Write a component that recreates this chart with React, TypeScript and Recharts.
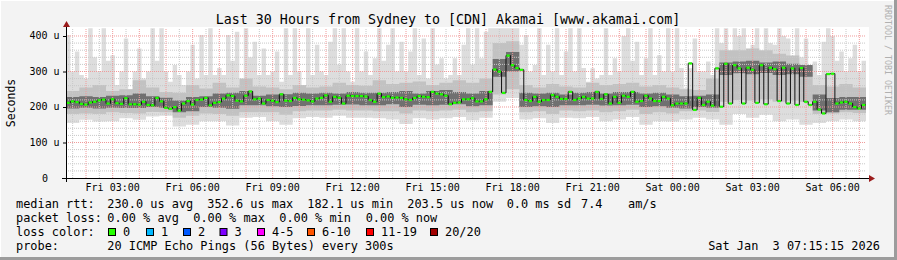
import React from "react";
import { ComposedChart, Area, Line, XAxis, YAxis, ReferenceLine } from "recharts";

const MONO = "'DejaVu Sans Mono', monospace";

// median rtt (us), one value per 10 minutes, Fri 01:15 -> Sat 07:15
const median = [
  212, 216, 214, 209, 207, 213, 215, 219, 221, 210,
  222, 211, 209, 225, 208, 208, 207, 215, 206, 205,
  226, 216, 198, 195, 200, 190, 210, 217, 207, 220,
  221, 226, 205, 212, 214, 224, 233, 231, 218, 216,
  232, 244, 222, 224, 210, 220,
  218, 214, 236, 218, 217, 226, 222, 221, 219, 216,
  224, 226, 233, 215, 229, 226, 210, 232, 231, 231,
  231, 230, 220, 215, 238, 228, 230, 226, 227, 226,
  222, 220, 226, 231, 229, 228, 243, 238, 236, 232,
  208, 212, 213, 222, 222, 225,
  216, 216, 222, 243, 306, 300, 240, 345, 318, 310,
  305, 220, 217, 229, 215, 220, 220, 234, 229, 223,
  223, 243, 220, 224, 229, 224, 224, 243, 223, 236,
  210, 229, 212, 232, 229, 243, 215, 217, 232, 224,
  217, 217, 229, 224, 205, 210, 210, 210, 323, 192,
  226, 206, 215, 204, 309, 201, 322, 210, 318, 309,
  210, 311, 305, 212, 318, 208, 311, 307, 217, 311,
  210, 309, 206, 310, 215, 206, 215, 193, 182, 293,
  294, 210, 213, 215, 210, 200, 196, 206,
];

// slowest ping per 10 minutes (top of the light smoke)
const maxRtt = [
  403, 300, 356, 290, 280, 422, 340, 300, 422, 330,
  346, 262, 300, 393, 250, 300, 365, 280, 300, 422,
  330, 422, 300, 271, 318, 290, 262, 300, 375, 280,
  403, 290, 422, 290, 310, 290, 403, 330, 412, 262,
  422, 340, 384, 290, 365, 290,
  300, 356, 271, 422, 290, 422, 300, 262, 422, 290,
  375, 300, 290, 384, 422, 320, 422, 300, 271, 422,
  300, 356, 290, 337, 422, 330, 375, 422, 300, 384,
  300, 356, 422, 290, 393, 280, 422, 320, 337, 280,
  290, 337, 290, 375, 422, 320,
  422, 337, 412, 422, 422, 422, 422, 422, 422, 422,
  375, 403, 300, 318, 422, 290, 375, 300, 422, 290,
  356, 422, 300, 422, 310, 271, 309, 280, 290, 422,
  290, 337, 300, 400, 422, 330, 384, 290, 337, 422,
  290, 346, 300, 422, 300, 422, 310, 253, 309, 393,
  300, 300, 328, 290, 422, 380, 422, 337, 422, 400,
  422, 360, 375, 422, 337, 422, 380, 375, 422, 400,
  393, 337, 422, 340, 393, 300, 328, 290, 384, 422,
  400, 330, 356, 300, 337, 375, 300, 330,
];

// smoke bands, one value per 30 minutes
const minRtt = [
  155, 164, 159, 160, 168, 164, 173, 175, 145, 150, 160, 160, 148, 170, 172,
  160, 150, 168, 172, 170, 175, 170, 170, 168, 165, 152, 168, 165, 168, 172,
  163, 170, 215, 225, 165, 168, 155, 170, 168, 172, 160, 165, 172, 150, 160,
  159, 165, 170, 165, 150, 180, 170, 178, 160, 165, 150, 155, 160, 165, 160,
];
const smokeLow = [
  180, 182, 180, 185, 183, 182, 186, 185, 170, 175, 182, 180, 175, 185, 185,
  185, 178, 188, 190, 190, 192, 190, 190, 188, 188, 182, 190, 188, 190, 192,
  185, 188, 235, 250, 185, 188, 180, 190, 188, 190, 185, 188, 192, 180, 185,
  182, 188, 190, 186, 215, 220, 218, 222, 215, 218, 215, 180, 182, 185, 183,
];
const coreLow = [
  196, 198, 196, 198, 197, 197, 200, 198, 185, 188, 200, 198, 195, 205, 205,
  202, 200, 203, 205, 205, 206, 207, 205, 205, 208, 200, 206, 205, 206, 208,
  202, 205, 285, 300, 200, 202, 200, 205, 205, 206, 204, 205, 206, 200, 202,
  198, 196, 200, 198, 290, 295, 292, 296, 290, 292, 285, 190, 185, 192, 192,
];
const coreHigh = [
  228, 230, 228, 232, 233, 238, 230, 226, 218, 228, 230, 238, 240, 245, 232,
  235, 236, 240, 238, 240, 238, 242, 240, 240, 242, 245, 238, 245, 248, 242,
  238, 245, 335, 355, 240, 238, 240, 235, 240, 242, 238, 242, 242, 238, 240,
  235, 230, 232, 235, 325, 328, 330, 325, 328, 322, 318, 235, 225, 228, 228,
];
const smokeHigh = [
  245, 255, 262, 245, 250, 275, 255, 242, 240, 262, 252, 268, 255, 280, 258,
  255, 250, 262, 255, 258, 268, 262, 260, 275, 265, 268, 272, 262, 268, 275,
  268, 280, 380, 385, 262, 255, 265, 258, 255, 268, 262, 265, 268, 258, 262,
  255, 250, 248, 280, 360, 360, 365, 360, 350, 345, 315, 262, 258, 265, 255,
];

// minutes after Fri 01:15
const xTicks = [105, 285, 465, 645, 825, 1005, 1185, 1365, 1545, 1725];
const xTickLabels = [
  "Fri 03:00", "Fri 06:00", "Fri 09:00", "Fri 12:00", "Fri 15:00",
  "Fri 18:00", "Fri 21:00", "Sat 00:00", "Sat 03:00", "Sat 06:00",
];
const yTicks = [0, 100, 200, 300, 400];
const yTickLabels = ["0", "100 u", "200 u", "300 u", "400 u"];

const hourLines = Array.from({ length: 30 }, (_, k) => 45 + k * 60);
const halfHourLines = Array.from({ length: 30 }, (_, k) => 15 + k * 60);
const minorY = Array.from({ length: 21 }, (_, k) => k * 20).filter((v) => v % 100 !== 0);
const majorY = [100, 200, 300, 400];

const lossLabels = ["0", "1", "2", "3", "4-5", "6-10", "11-19", "20/20"];
const lossColors = ["#26ff00", "#00b8ff", "#0059ff", "#7e00ff", "#ff00ff", "#ff5500", "#ff0000", "#a10000"];
const lossBoxX = [108, 146, 183, 219.5, 257, 307, 366, 430];

const rows = median.map((m, i) => {
  const k = Math.floor(i / 3);
  return {
    t: i * 10,
    median: m,
    outer: [minRtt[k], maxRtt[i]],
    smoke: [smokeLow[k], smokeHigh[k]],
    core: [coreLow[k], coreHigh[k]],
  };
});
rows.push({ ...rows[rows.length - 1], t: 1800 });

const MedianDot = (props: any) => {
  const { cx, cy, index } = props;
  if (index >= median.length || cx == null) return <g key={`d${index}`} />;
  return <rect key={`d${index}`} x={cx + 0.4} y={cy - 1} width={3.4} height={2.2} fill="#20ff00" />;
};

const XTick = (props: any) => {
  const i = xTicks.indexOf(props.payload.value);
  return (
    <text x={props.x} y={191} textAnchor="middle" fontFamily={MONO} fontSize={10} fill="#000">
      {xTickLabels[i]}
    </text>
  );
};

const YTick = (props: any) => {
  const v = props.payload.value;
  const i = yTicks.indexOf(v);
  return (
    <text x={v === 0 ? 48 : 59.5} y={props.y + 3.5} textAnchor="end" fontFamily={MONO} fontSize={10} fill="#000">
      {yTickLabels[i]}
    </text>
  );
};

const text = { fontFamily: MONO, fontSize: 11.9, fill: "#000" } as const;

export default function App() {
  return (
    <div style={{ position: "absolute", left: 0, top: 0, width: 897, height: 260, background: "#f3f3f3" }}>
      <svg width={897} height={260} style={{ position: "absolute", left: 0, top: 0 }}>
        <rect x={0} y={0} width={897} height={1} fill="#ffffff" />
        <rect x={0} y={0} width={1} height={260} fill="#ffffff" />
        <rect x={0} y={257} width={897} height={3} fill="#9c9c9c" />
        <rect x={894} y={0} width={3} height={260} fill="#9c9c9c" />
        <rect x={66} y={27} width={803} height={151} fill="#ffffff" />
        <text x={448} y={24} textAnchor="middle" fontFamily={MONO} fontSize={13.3} fill="#000">
          Last 30 Hours from Sydney to [CDN] Akamai [www.akamai.com]
        </text>
        <text x={15} y={103} textAnchor="middle" fontFamily={MONO} fontSize={11.5} transform="rotate(-90 15 103)">
          Seconds
        </text>
        <text x={885} y={60} textAnchor="middle" fontFamily={MONO} fontSize={8.3} fill="#b0b0b0" transform="rotate(90 885 60)">
          RRDTOOL / TOBI OETIKER
        </text>

        <text {...text} x={16} y={207.5}>median rtt:</text>
        <text {...text} x={107.3} y={207.5}>230.0 us avg</text>
        <text {...text} x={207.3} y={207.5}>352.6 us max</text>
        <text {...text} x={307.3} y={207.5}>182.1 us min</text>
        <text {...text} x={407.3} y={207.5}>203.5 us now</text>
        <text {...text} x={506.7} y={207.5}>0.0 ms sd</text>
        <text {...text} x={581} y={207.5}>7.4</text>
        <text {...text} x={628} y={207.5}>am/s</text>

        <text {...text} x={16} y={221.5}>packet loss:</text>
        <text {...text} x={107.3} y={221.5}>0.00 % avg</text>
        <text {...text} x={193.3} y={221.5}>0.00 % max</text>
        <text {...text} x={279.3} y={221.5}>0.00 % min</text>
        <text {...text} x={365.7} y={221.5}>0.00 % now</text>

        <text {...text} x={16} y={235.5}>loss color:</text>
        {lossLabels.map((l, i) => (
          <g key={l}>
            <rect x={lossBoxX[i] + 0.5} y={228.5} width={7} height={7} fill={lossColors[i]} stroke="#000" strokeWidth={1} />
            <text {...text} x={lossBoxX[i] + 15} y={235.5}>{l}</text>
          </g>
        ))}

        <text {...text} x={16} y={249.5}>probe:</text>
        <text {...text} x={107.3} y={249.5}>20 ICMP Echo Pings (56 Bytes) every 300s</text>
        <text {...text} x={880} y={249.5} textAnchor="end" style={{ whiteSpace: "pre" }}>Sat Jan  3 07:15:15 2026</text>
      </svg>

      <div style={{ position: "absolute", left: 0, top: 0 }}>
        <ComposedChart width={897} height={260} data={rows} margin={{ top: 28, right: 31, bottom: 62, left: 0 }}>
          <XAxis
            dataKey="t"
            type="number"
            domain={[0, 1800]}
            ticks={xTicks}
            tick={<XTick />}
            axisLine={false}
            tickLine={false}
            height={20}
            interval={0}
          />
          <YAxis
            type="number"
            domain={[0, 422.5]}
            ticks={yTicks}
            tick={<YTick />}
            axisLine={false}
            tickLine={false}
            width={66}
            allowDataOverflow
            interval={0}
          />
          <Area dataKey="outer" type="stepAfter" fill="#dddddd" fillOpacity={1} stroke="none" isAnimationActive={false} />
          <Area dataKey="smoke" type="stepAfter" fill="#c2c2c2" fillOpacity={1} stroke="none" isAnimationActive={false} />
          <Area dataKey="core" type="stepAfter" fill="#707070" fillOpacity={1} stroke="none" isAnimationActive={false} />
          {halfHourLines.map((t) => (
            <ReferenceLine key={`h${t}`} x={t} stroke="#c8c8c8" strokeDasharray="1 1" zIndex={150} />
          ))}
          {minorY.map((v) => (
            <ReferenceLine key={`m${v}`} y={v} stroke="#c8c8c8" strokeDasharray="1 1" zIndex={150} />
          ))}
          {hourLines.map((t) => (
            <ReferenceLine key={`H${t}`} x={t} stroke="#f09a9a" strokeDasharray="1 1" zIndex={150} />
          ))}
          {majorY.map((v) => (
            <ReferenceLine key={`M${v}`} y={v} stroke="#f09a9a" strokeDasharray="1 1" zIndex={150} />
          ))}
          <Line
            dataKey="median"
            type="stepAfter"
            stroke="#111111"
            strokeWidth={1}
            dot={MedianDot}
            activeDot={false}
            isAnimationActive={false}
          />
        </ComposedChart>
      </div>

      <svg width={897} height={260} style={{ position: "absolute", left: 0, top: 0, pointerEvents: "none" }}>
        <line x1={62} y1={178.5} x2={870} y2={178.5} stroke="#000" strokeWidth={1} />
        <line x1={66.5} y1={182} x2={66.5} y2={26} stroke="#000" strokeWidth={1} />
        <polygon points="869,175 875,178.5 869,182" fill="#9b1c1c" />
        <polygon points="63,27 66.5,21 70,27" fill="#9b1c1c" />
        {majorY.map((v) => (
          <line key={v} x1={63} y1={178.5 - v * 0.355} x2={66} y2={178.5 - v * 0.355} stroke="#000" />
        ))}
      </svg>
    </div>
  );
}
